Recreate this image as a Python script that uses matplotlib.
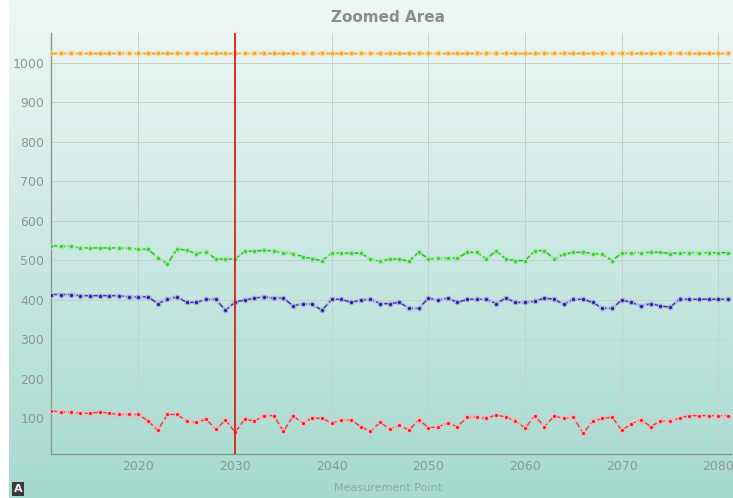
import matplotlib.pyplot as plt
import numpy as np

# Datos (un punto por año)
anios = list(range(2011, 2083))

naranja = [1025] * len(anios)

verde = [537, 535, 535, 531, 531, 531, 531, 531, 530, 528,
         528, 506, 491, 529, 525, 517, 522, 503, 503, 503,
         523, 523, 525, 523, 519, 517, 509, 503, 499, 518,
         518, 518, 518, 503, 497, 503, 503, 497, 521, 503,
         505, 505, 505, 520, 520, 503, 524, 503, 499, 499,
         524, 524, 503, 515, 520, 520, 517, 515, 499, 518,
         518, 519, 520, 520, 517, 519, 519, 519, 519, 519,
         519, 519]

azul = [413, 413, 413, 410, 410, 410, 410, 410, 407, 407,
        407, 390, 401, 407, 393, 393, 401, 401, 373, 394,
        399, 404, 407, 404, 404, 384, 390, 388, 373, 401,
        401, 393, 399, 401, 390, 390, 393, 378, 378, 404,
        399, 404, 393, 401, 401, 401, 390, 404, 393, 393,
        396, 404, 401, 388, 401, 401, 393, 378, 378, 399,
        393, 384, 390, 384, 381, 401, 401, 401, 401, 401,
        401, 401]

rojo = [118, 115, 115, 112, 112, 115, 112, 109, 109, 109,
        92, 69, 109, 109, 92, 89, 97, 71, 95, 64,
        97, 92, 106, 106, 66, 105, 87, 100, 99, 87,
        95, 95, 78, 66, 89, 72, 81, 69, 96, 75,
        78, 87, 78, 102, 102, 99, 108, 102, 92, 75,
        105, 78, 105, 99, 102, 61, 92, 99, 102, 69,
        85, 96, 78, 92, 92, 100, 106, 106, 106, 106,
        106, 106]

marcador_x = 2030

# Figura y fondo con degradado
fig = plt.figure(figsize=(7.33, 4.98), dpi=100, facecolor='white')
fondo = fig.add_axes([9 / 733, 0, 1 - 9 / 733, 1], zorder=-10)
degradado = np.linspace(0, 1, 256).reshape(-1, 1)
c_arriba = np.array([0.94, 0.97, 0.965])
c_abajo = np.array([0.65, 0.855, 0.81])
img = c_arriba + (c_abajo - c_arriba) * degradado[:, :, None]
fondo.imshow(img, aspect='auto', extent=[0, 1, 0, 1])
fondo.axis('off')

ax = fig.add_axes([51 / 733, 1 - 453.5 / 498, 680 / 733, 420.5 / 498])
ax.set_facecolor('none')

# Series: halo claro + linea discontinua + marcadores
series = [
    (naranja, '#f5a623', '#e8961a', '#fbd38a'),
    (verde, '#3ccf3c', '#2fb52f', '#a5eaa5'),
    (azul, '#2020a8', '#3a3a9a', '#a8a8dc'),
    (rojo, '#ee2233', '#b25555', '#ffb0b0'),
]
for valores, c_marca, c_linea, c_halo in series:
    ax.plot(anios, valores, color=c_halo, lw=2.4, alpha=0.5, zorder=3)
    ax.plot(anios, valores, color=c_linea, lw=1.0, linestyle=(0, (4, 2)), zorder=4)
    ax.plot(anios, valores, linestyle='none', marker='o', markersize=3.2,
            markerfacecolor=c_marca, markeredgecolor=c_halo, markeredgewidth=0.9, zorder=5)

# Linea vertical roja
ax.axvline(marcador_x, color='#e21c1c', lw=1.3, zorder=6)

ax.set_xlim(2010.95, 2081.3)
ax.set_ylim(10, 1076)
ax.set_xticks([2020, 2030, 2040, 2050, 2060, 2070, 2080])
ax.set_yticks(range(100, 1001, 100))

ax.grid(True, color='#c4d2ce', lw=0.7, zorder=0)
ax.tick_params(length=0, colors='#8e9896', labelsize=9, pad=5)
for lado in ['top', 'right']:
    ax.spines[lado].set_visible(False)
for lado in ['left', 'bottom']:
    ax.spines[lado].set_color('#8a9894')
    ax.spines[lado].set_linewidth(1.0)

# Textos
fig.text(388 / 733, 1 - 17 / 498, 'Zoomed Area', ha='center', va='center',
         fontsize=11, fontweight='bold', color='#8c8c8c')
fig.text(388 / 733, 1 - 488 / 498, 'Measurement Point', ha='center', va='center',
         fontsize=8, color='#8aa8a2')
fig.text(18 / 733, 1 - 489 / 498, 'A', ha='center', va='center', fontsize=8,
         fontweight='bold', color='white',
         bbox=dict(boxstyle='square,pad=0.15', facecolor='#3a3a3a', edgecolor='none'))

plt.savefig('out.png', dpi=100, facecolor=fig.get_facecolor())
